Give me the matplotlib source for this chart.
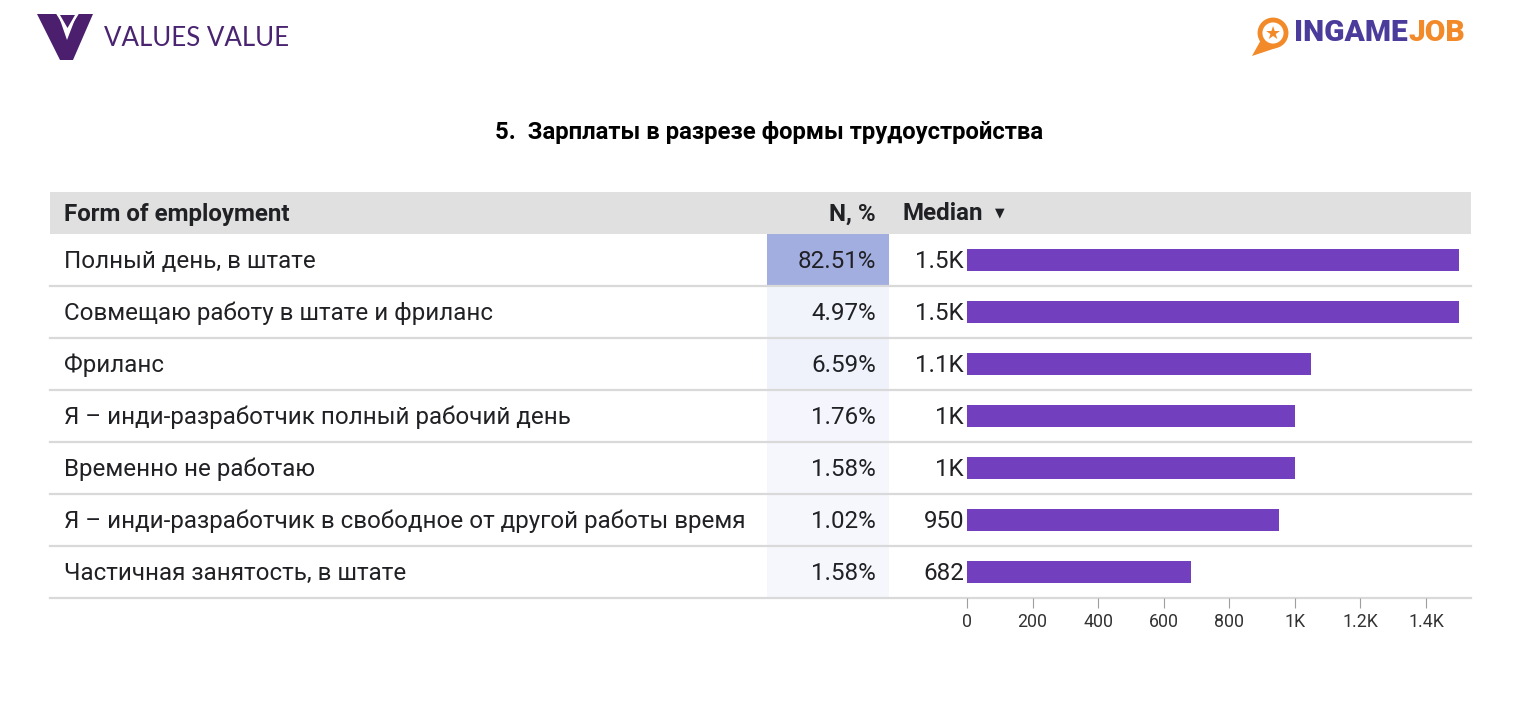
import numpy as np
import matplotlib
matplotlib.use("Agg")
import matplotlib.pyplot as plt
from matplotlib.patches import Rectangle, Polygon, Circle
from matplotlib.colors import LinearSegmentedColormap, Normalize

plt.rcParams['font.family'] = ['Roboto', 'DejaVu Sans']

# data
forms = ["Полный день, в штате",
         "Совмещаю работу в штате и фриланс",
         "Фриланс",
         "Я – инди-разработчик полный рабочий день",
         "Временно не работаю",
         "Я – инди-разработчик в свободное от другой работы время",
         "Частичная занятость, в штате"]
share = [82.51, 4.97, 6.59, 1.76, 1.58, 1.02, 1.58]
median = [1500, 1500, 1050, 1000, 1000, 950, 682]
ticks = [0, 200, 400, 600, 800, 1000, 1200, 1400]

W, H = 1516, 726
fig = plt.figure(figsize=(W / 100, H / 100), dpi=100)

# background axes in pixel coords
bg = fig.add_axes([0, 0, 1, 1])
bg.set_xlim(0, W)
bg.set_ylim(H, 0)
bg.axis("off")

def kfmt(v):
    if v >= 1000:
        s = f"{v / 1000:.1f}".rstrip("0").rstrip(".")
        return s + "K"
    return str(int(v))

# table geometry (pixels)
x0, x1 = 50, 1471
hdr_top, hdr_bot = 192, 234
row_h = 52
ncol_l, ncol_r = 767, 889
txt_col = "#202124"
fs = 17.4

# header
bg.add_patch(Rectangle((x0, hdr_top), x1 - x0, hdr_bot - hdr_top, color="#e0e0e0", lw=0))
hy = (hdr_top + hdr_bot) / 2 + 1
bg.text(64, hy, "Form of employment", fontsize=fs, fontweight="bold", color=txt_col, va="center", ha="left")
bg.text(876, hy, "N, %", fontsize=fs, fontweight="bold", color=txt_col, va="center", ha="right")
bg.text(903, hy, "Median", fontsize=fs, fontweight="bold", color=txt_col, va="center", ha="left")
bg.text(995, hy - 1, "▼", fontsize=9, color=txt_col, va="center", ha="left", family=["DejaVu Sans"])

# N% heat cells
cmap = LinearSegmentedColormap.from_list("h", ["#f6f7fd", "#a3aee0"])
norm = Normalize(min(share), max(share))
for i, (f, s) in enumerate(zip(forms, share)):
    top = hdr_bot + i * row_h
    cy = top + row_h / 2 + 1
    bg.add_patch(Rectangle((ncol_l, top), ncol_r - ncol_l, row_h, color=cmap(norm(s)), lw=0))
    bg.text(64, cy, f, fontsize=fs, color=txt_col, va="center", ha="left")
    bg.text(876, cy, f"{s:.2f}%", fontsize=fs, color=txt_col, va="center", ha="right")
    bg.plot([x0, x1], [top + row_h, top + row_h], color="#d9d9d9", lw=1.6)

# title
bg.text(769, 133, "5.  Зарплаты в разрезе формы трудоустройства", fontsize=17.2, fontweight="bold",
        color="black", ha="center", va="center")

# logos
vcol = "#4c1f6e"
bg.add_patch(Polygon([(37, 14), (58, 14), (67, 40), (77, 14), (93, 14), (73, 60), (60, 60)],
                     closed=True, color=vcol, lw=0))
bg.add_patch(Polygon([(55, 12), (80, 12), (67.5, 32)], closed=True, color="white", lw=0))
bg.add_patch(Polygon([(60, 15), (75, 15), (67.5, 28)], closed=True, color=vcol, lw=0))
bg.text(104, 38, "VALUES VALUE", fontsize=18.6, color="#4a2470", ha="left", va="center",
        family=["Lato", "Open Sans", "DejaVu Sans"])

orange = "#f28a2a"
bg.add_patch(Polygon([(1252, 56), (1262, 38), (1276, 48)], closed=True, color=orange, lw=0))
bg.add_patch(Circle((1273, 33), 13, facecolor="white", edgecolor=orange, lw=3.5))
bg.text(1273, 34, "★", fontsize=13, color=orange, ha="center", va="center", family=["DejaVu Sans"])
t = bg.text(1294, 33, "INGAME", fontsize=21.5, fontweight="black", color="#4b3c9c", ha="left", va="center")
bg.annotate("JOB", xy=(1, 0.5), xycoords=t, xytext=(1, 0), textcoords="offset pixels",
            fontsize=21.5, fontweight="black", color=orange, ha="left", va="center")

# bar axes
left = 967 / W
right = 1471 / W
bottom = 1 - (hdr_bot + len(forms) * row_h) / H
top_f = 1 - hdr_bot / H
ax = fig.add_axes([left, bottom, right - left, top_f - bottom])
ax.patch.set_alpha(0)
y = np.arange(len(forms))
ax.barh(y, median, height=0.42, color="#7240bf")
ax.set_ylim(len(forms) - 0.5, -0.5)
ax.set_xlim(0, 1537)
for sp in ax.spines.values():
    sp.set_visible(False)
ax.set_yticks([])
ax.set_xticks(ticks)
ax.set_xticklabels([kfmt(v) for v in ticks])
ax.tick_params(axis="x", length=7, color="#9e9e9e", labelsize=12.8, labelcolor="#333333", pad=4,
               direction="out")
for i, v in enumerate(median):
    ax.annotate(kfmt(v), (0, i), xytext=(-3, -1), textcoords="offset pixels", ha="right",
                va="center", fontsize=fs, color=txt_col, annotation_clip=False)

fig.savefig("out.png", dpi=100)
